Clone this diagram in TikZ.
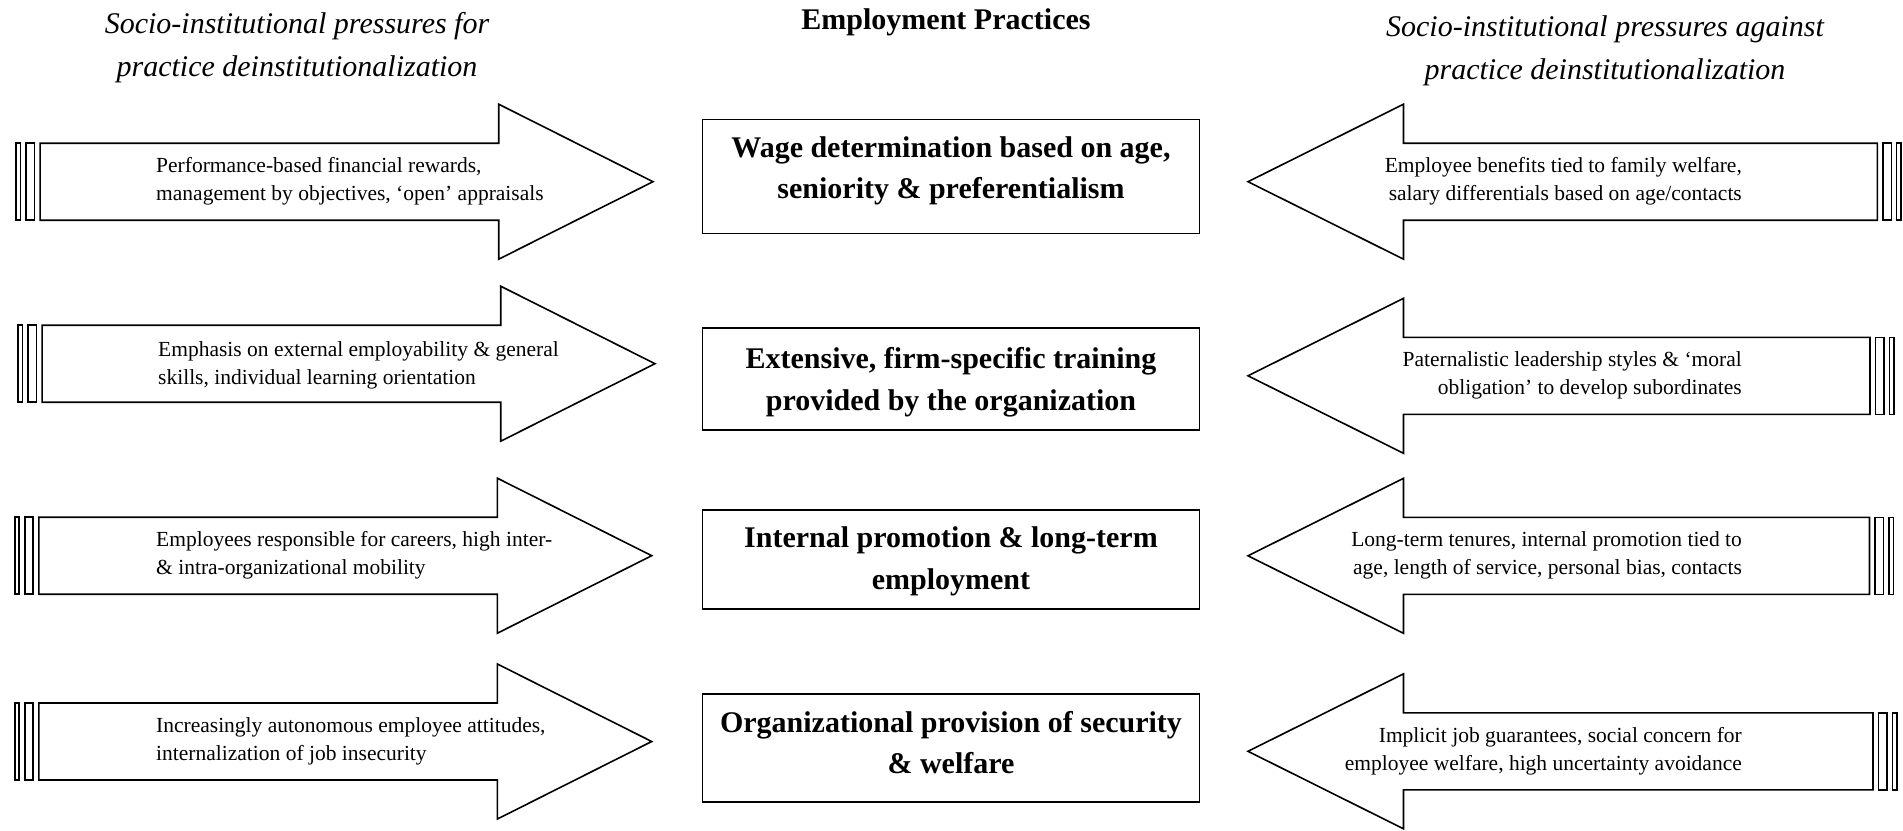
\documentclass[tikz,border=0pt]{standalone}
\usepackage{fontspec}
\setmainfont{Liberation Serif}

% Block arrow pointing right: #1 = centre y, #2 = horizontal offset
\newcommand\forcearrow[2]{%
  \begin{scope}[shift={(#2,#1)}]
    \draw[outline] (40.1,-38.5) -- (498.7,-38.5) -- (498.7,-77.5) -- (653,0)
      -- (498.7,77.5) -- (498.7,38.5) -- (40.1,38.5) -- cycle;
    \draw[outline] (16.1,-38.5) rectangle (20.5,38.5);
    \draw[outline] (26.1,-38.5) rectangle (34.5,38.5);
  \end{scope}}

% Block arrow pointing left: #1 = centre y, #2 = x of the tail end
\newcommand\resistarrow[2]{%
  \begin{scope}[shift={(0,#1)}]
    \draw[outline] (#2,-38.5) -- (1403.5,-38.5) -- (1403.5,-77.5) -- (1248,0)
      -- (1403.5,77.5) -- (1403.5,38.5) -- (#2,38.5) -- cycle;
    \draw[outline] (#2+5.5,-38.5) rectangle (#2+14,38.5);
    \draw[outline] (#2+19.3,-38.5) rectangle (#2+23.8,38.5);
  \end{scope}}

\begin{document}
\begin{tikzpicture}[x=1pt,y=-1pt,
  outline/.style={draw=black, line width=1.6pt, line join=miter, fill=white},
  practicebox/.style={draw=black, line width=1.8pt, minimum width=497pt,
    inner sep=0pt},
  practicetext/.style={inner sep=0pt, align=center,
    font=\fontsize{30}{41.5}\selectfont\bfseries},
  pressuretext/.style={inner sep=0pt, font=\fontsize{21.5}{28}\selectfont},
  headtext/.style={inner sep=0pt, align=center,
    font=\fontsize{30}{43}\selectfont\itshape}]
\useasboundingbox (0,0) rectangle (1903,830);

% column headings
\node[headtext] (hfor) at (297,48)
  {Socio-institutional pressures for\\practice deinstitutionalization};
\node[inner sep=0pt, font=\fontsize{30}{36}\selectfont\bfseries] (hpractice)
  at (946,22.5) {Employment Practices};
\node[headtext] (hagainst) at (1605,51)
  {Socio-institutional pressures against\\practice deinstitutionalization};

% pressures for deinstitutionalization
\forcearrow{181.7}{0}
\forcearrow{363.7}{2}
\forcearrow{555.7}{-1.3}
\forcearrow{741.5}{-1.3}

\node[pressuretext, anchor=west, align=left] (for1) at (156,181.7)
  {Performance-based financial rewards,\\management by objectives, ‘open’ appraisals};
\node[pressuretext, anchor=west, align=left] (for2) at (158,365.5)
  {Emphasis on external employability \& general\\skills, individual learning orientation};
\node[pressuretext, anchor=west, align=left] (for3) at (156,555.7)
  {Employees responsible for careers, high inter-\\\& intra-organizational mobility};
\node[pressuretext, anchor=west, align=left] (for4) at (156,741.5)
  {Increasingly autonomous employee attitudes,\\internalization of job insecurity};

% employment practices
\node[practicebox, minimum height=114pt] (wage) at (951,176.5) {};
\node[practicebox, minimum height=102pt] (training) at (951,378.6) {};
\node[practicebox, minimum height=99.5pt] (promotion) at (951,559.5) {};
\node[practicebox, minimum height=108pt] (security) at (951,748) {};

\node[practicetext] (wagetext) at (951,171)
  {Wage determination based on age,\\seniority \& preferentialism};
\node[practicetext] (trainingtext) at (951,382.2)
  {Extensive, firm-specific training\\provided by the organization};
\node[practicetext] (promotiontext) at (951,561.3)
  {Internal promotion \& long-term\\employment};
\node[practicetext] (securitytext) at (951,742.5)
  {Organizational provision of security\\\& welfare};

% pressures against deinstitutionalization
\resistarrow{181.7}{1877.3}
\resistarrow{375.8}{1870}
\resistarrow{555.8}{1869.5}
\resistarrow{751.3}{1873}

\node[pressuretext, anchor=east, align=right] (against1) at (1742,181.7)
  {Employee benefits tied to family welfare,\\salary differentials based on age/contacts};
\node[pressuretext, anchor=east, align=right] (against2) at (1742,375.8)
  {Paternalistic leadership styles \& ‘moral\\obligation’ to develop subordinates};
\node[pressuretext, anchor=east, align=right] (against3) at (1742,555.8)
  {Long-term tenures, internal promotion tied to\\age, length of service, personal bias, contacts};
\node[pressuretext, anchor=east, align=right] (against4) at (1742,751.3)
  {Implicit job guarantees, social concern for\\employee welfare, high uncertainty avoidance};
\end{tikzpicture}
\end{document}
